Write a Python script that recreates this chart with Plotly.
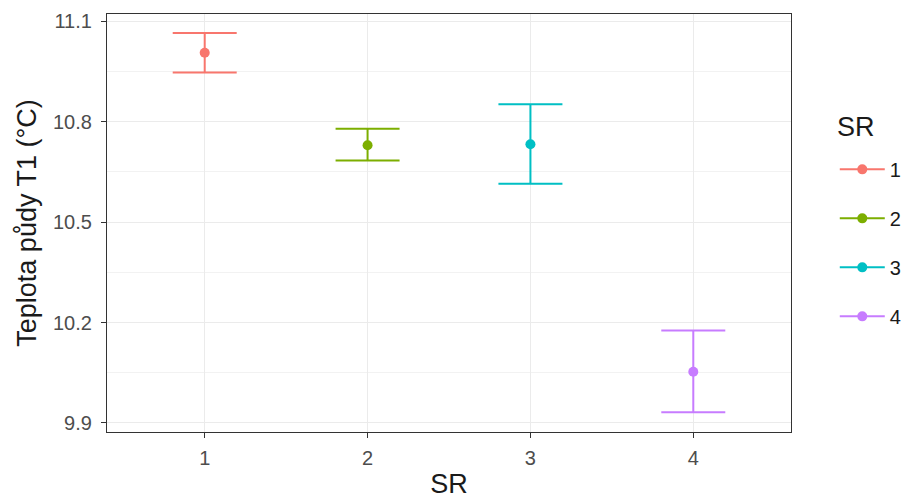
import plotly.graph_objects as go

categories = [1, 2, 3, 4]
cat_labels = ["1", "2", "3", "4"]
means = [11.006, 10.730, 10.733, 10.053]
upper = [11.065, 10.779, 10.852, 10.176]
lower = [10.947, 10.684, 10.615, 9.932]
colors = ["#F8766D", "#7CAE00", "#00BFC4", "#C77CFF"]
y_ticks = [9.9, 10.2, 10.5, 10.8, 11.1]
y_tick_labels = ["9.9", "10.2", "10.5", "10.8", "11.1"]
y_minor = [9.75, 10.05, 10.35, 10.65, 10.95]

fig = go.Figure()
for c, lab, m, u, lo, col in zip(categories, cat_labels, means, upper, lower, colors):
    fig.add_trace(go.Scatter(
        x=[c], y=[m], mode="lines+markers", name=lab,
        legendgroup=lab,
        marker=dict(color=col, size=10),
        line=dict(color=col, width=2),
        error_y=dict(type="data", symmetric=False, array=[u - m], arrayminus=[m - lo],
                     color=col, thickness=2, width=32),
    ))

# page body has an 8px margin: shrink the figure and shift margins accordingly
fig.update_layout(
    width=904, height=491,
    margin=dict(l=99, r=121, t=6, b=67, autoexpand=False),
    paper_bgcolor="white", plot_bgcolor="white",
    font=dict(family="Liberation Sans, Arial, sans-serif", color="#1a1a1a"),
    xaxis=dict(
        range=[0.4, 4.6], tickvals=categories, ticktext=cat_labels,
        showgrid=True, gridcolor="#EBEBEB", gridwidth=1.3,
        showline=True, linecolor="#333333", linewidth=1.3, mirror=True,
        ticks="outside", ticklen=5, tickcolor="#333333", tickwidth=1.3,
        ticklabelstandoff=3,
        tickfont=dict(size=20, color="#4D4D4D"),
        title=dict(text="SR", font=dict(size=27, color="#1a1a1a"), standoff=8),
        zeroline=False,
    ),
    yaxis=dict(
        range=[9.873, 11.122], tickvals=y_ticks, ticktext=y_tick_labels,
        showgrid=True, gridcolor="#EBEBEB", gridwidth=1.3,
        minor=dict(tickvals=y_minor, showgrid=True,
                   gridcolor="#F2F2F2", gridwidth=0.8, ticks=""),
        showline=True, linecolor="#333333", linewidth=1.3, mirror=True,
        ticks="outside", ticklen=5, tickcolor="#333333", tickwidth=1.3,
        ticklabelstandoff=5,
        tickfont=dict(size=20, color="#4D4D4D"),
        title=dict(text="Teplota půdy T1 (°C)", font=dict(size=27, color="#1a1a1a"), standoff=8),
        zeroline=False,
    ),
    legend=dict(
        x=1.064, y=0.675, xanchor="left", yanchor="top",
        font=dict(size=20, color="#1a1a1a"),
        tracegroupgap=20, traceorder="grouped", itemwidth=45,
        bgcolor="rgba(0,0,0,0)",
    ),
    annotations=[dict(
        text="SR", xref="paper", yref="paper", x=1.064, y=0.730,
        xanchor="left", yanchor="middle", showarrow=False,
        font=dict(size=27, color="#1a1a1a"),
    )],
)

fig.write_html("out.html")
